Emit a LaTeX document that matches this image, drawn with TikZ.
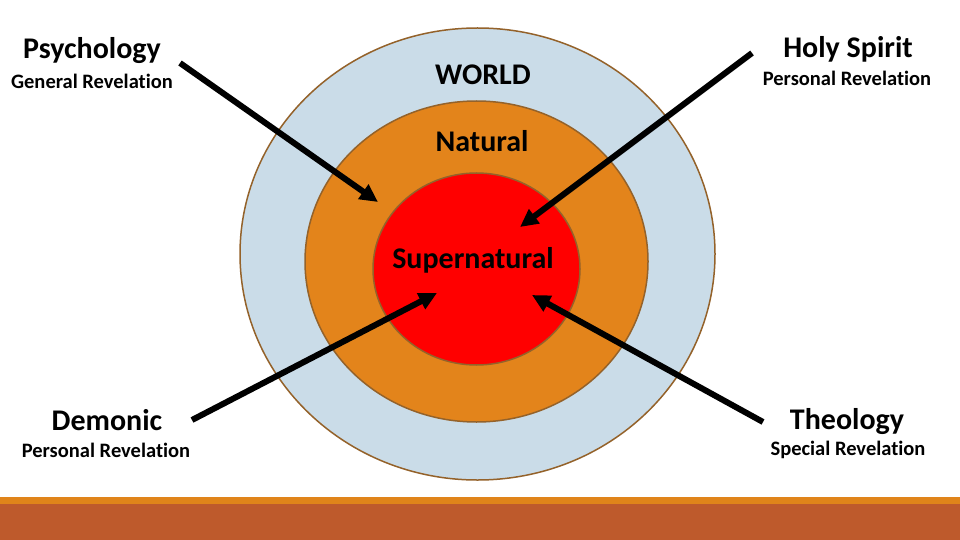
\documentclass[tikz,border=0pt]{standalone}
\usepackage{fontspec}
\setmainfont[Ligatures={NoCommon}]{Carlito}
\usetikzlibrary{arrows.meta}
\definecolor{ringblue}{HTML}{CADCE8}
\definecolor{ringorange}{HTML}{E3841B}
\definecolor{ringred}{HTML}{FF0000}
\definecolor{ringedge}{HTML}{94622A}
\definecolor{barorange}{HTML}{E0841A}
\definecolor{barbrown}{HTML}{BE5A2C}
\tikzset{
  big/.style={font=\bfseries\fontsize{30}{32}\selectfont, inner sep=0pt},
  small/.style={font=\bfseries\fontsize{20.5}{22}\selectfont, inner sep=0pt},
  label/.style={font=\bfseries\fontsize{30}{32}\selectfont, inner sep=0pt},
  ring/.style={draw=ringedge, line width=1.5pt},
  arr/.style={line width=6pt, -{Triangle[length=18pt,width=17pt]}}
}
\begin{document}
\begin{tikzpicture}[x=1pt,y=-1pt]
\useasboundingbox (0,0) rectangle (960,540);
\fill[white] (0,0) rectangle (960,540);
% bottom bar
\fill[barorange] (0,497) rectangle (960,505);
\fill[barbrown] (0,504) rectangle (960,540);
% rings
\draw[ring, fill=ringblue] (477.5,254) ellipse [x radius=237.5, y radius=226];
\draw[ring, fill=ringorange] (476.5,261.5) ellipse [x radius=171.5, y radius=160.5];
\draw[ring, fill=ringred] (476.5,269) ellipse [x radius=103.5, y radius=96];
% ring labels
\node[label] (world) at (483,75) {WORLD};
\node[label] (natural) at (482,141) {Natural};
\node[label] (super) at (473,260) {Supernatural};
% corner labels
\node[big] (psy) at (92,51) {Psychology};
\node[small] (psyr) at (92,81) {General Revelation};
\node[big] (holy) at (848,49) {Holy Spirit};
\node[small] (holyr) at (847,78) {Personal Revelation};
\node[big] (dem) at (107,420) {Demonic};
\node[small] (demr) at (106,450) {Personal Revelation};
\node[big] (theo) at (847,422) {Theology};
\node[small] (theor) at (848,450) {Special Revelation};
% arrow ends
\coordinate (psyS) at (180,63);
\coordinate (psyT) at (378,202);
\coordinate (holyS) at (752,53);
\coordinate (holyT) at (520,227);
\coordinate (demS) at (192,420);
\coordinate (demT) at (437,293);
\coordinate (theoS) at (763,422);
\coordinate (theoT) at (532,295);
\draw[arr] (psyS) -- (psyT);
\draw[arr] (holyS) -- (holyT);
\draw[arr] (demS) -- (demT);
\draw[arr] (theoS) -- (theoT);
\end{tikzpicture}
\end{document}
